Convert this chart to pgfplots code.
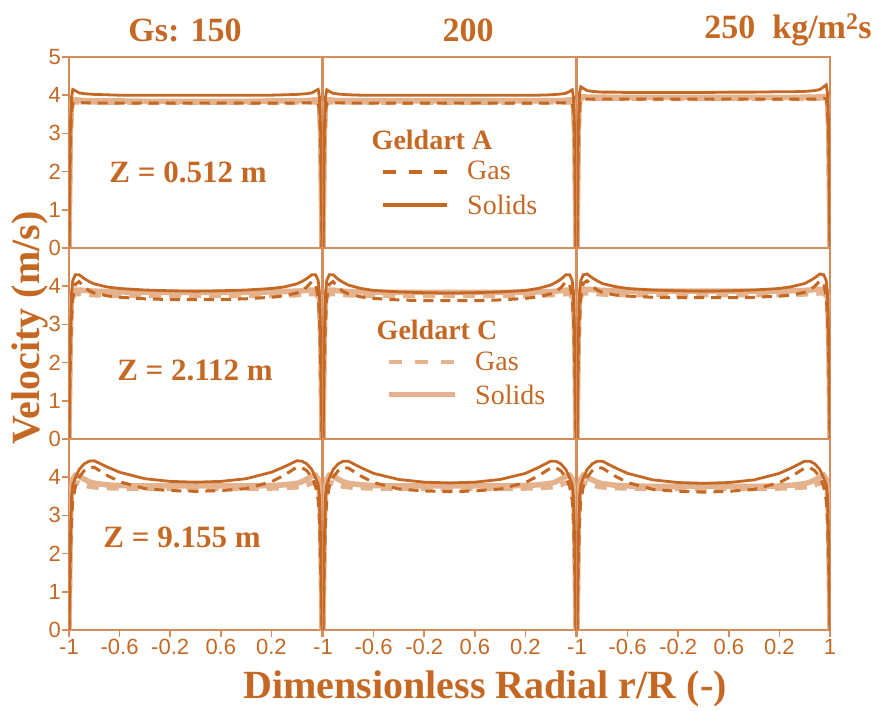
\documentclass[border=0pt]{standalone}
\usepackage{fontspec}
\setmainfont{Liberation Serif}
\setsansfont{Liberation Sans}
\usepackage{pgfplots}
\pgfplotsset{compat=1.18}
\usepackage{pgfplotstable}
\definecolor{dk}{RGB}{196,104,36}
\definecolor{lt}{RGB}{228,178,140}
\definecolor{axc}{RGB}{214,140,90}

\pgfplotstableread{
x ag1 as1 cg1 cs1 ag2 as2 cg2 cs2 ag3 as3 cg3 cs3
-1 0 0 0 0 0 0 0 0 0 0 0 0
-0.99 2.6 3.0 2.8 3.0 2.6 3.0 2.8 3.0 2.7 3.1 2.9 3.1
-0.98 3.6 3.95 3.7 3.8 3.6 3.95 3.7 3.8 3.7 4.05 3.8 3.9
-0.97 3.78 4.15 3.8 3.88 3.78 4.14 3.8 3.88 3.88 4.22 3.9 3.96
-0.95 3.82 4.12 3.82 3.88 3.81 4.10 3.82 3.88 3.90 4.18 3.91 3.96
-0.92 3.80 4.06 3.82 3.87 3.80 4.05 3.82 3.87 3.90 4.12 3.91 3.95
-0.88 3.80 4.04 3.82 3.86 3.80 4.03 3.82 3.86 3.90 4.10 3.91 3.95
-0.84 3.80 4.03 3.82 3.86 3.80 4.02 3.82 3.86 3.90 4.09 3.91 3.95
-0.8 3.79 4.02 3.82 3.85 3.79 4.01 3.82 3.86 3.90 4.08 3.91 3.95
-0.7 3.79 4.01 3.81 3.85 3.79 4.00 3.82 3.85 3.90 4.08 3.91 3.94
-0.6 3.79 4.00 3.81 3.85 3.79 4.00 3.81 3.85 3.90 4.07 3.91 3.94
-0.4 3.79 4.00 3.81 3.84 3.79 4.00 3.81 3.85 3.90 4.07 3.91 3.94
-0.2 3.79 4.00 3.81 3.84 3.79 4.00 3.81 3.85 3.90 4.07 3.91 3.94
0 3.79 4.00 3.81 3.84 3.79 4.00 3.81 3.85 3.90 4.07 3.91 3.94
0.2 3.79 4.00 3.81 3.84 3.79 4.00 3.81 3.85 3.90 4.08 3.91 3.94
0.4 3.79 4.00 3.81 3.84 3.79 4.00 3.81 3.85 3.90 4.08 3.91 3.94
0.6 3.79 4.00 3.81 3.85 3.79 4.00 3.81 3.85 3.90 4.09 3.91 3.94
0.7 3.79 4.01 3.81 3.85 3.79 4.00 3.82 3.85 3.90 4.09 3.91 3.94
0.8 3.79 4.02 3.82 3.85 3.79 4.01 3.82 3.86 3.90 4.10 3.91 3.95
0.84 3.80 4.03 3.82 3.86 3.80 4.02 3.82 3.86 3.90 4.11 3.91 3.95
0.88 3.80 4.04 3.82 3.86 3.80 4.03 3.82 3.86 3.90 4.12 3.91 3.95
0.92 3.80 4.06 3.82 3.87 3.80 4.05 3.82 3.87 3.91 4.15 3.92 3.96
0.95 3.82 4.12 3.82 3.88 3.81 4.10 3.82 3.88 3.92 4.22 3.92 3.97
0.97 3.78 4.15 3.8 3.88 3.78 4.14 3.8 3.88 3.9 4.27 3.9 3.96
0.98 3.6 3.95 3.7 3.8 3.6 3.95 3.7 3.8 3.7 4.05 3.8 3.9
0.99 2.6 3.0 2.8 3.0 2.6 3.0 2.8 3.0 2.7 3.1 2.9 3.1
1 0 0 0 0 0 0 0 0 0 0 0 0
}\rowone

\pgfplotstableread{
x ag1 as1 cg1 cs1 ag2 as2 cg2 cs2 ag3 as3 cg3 cs3
-1 0 0 0 0 0 0 0 0 0 0 0 0
-0.99 2.0 2.6 2.4 2.8 2.0 2.6 2.4 2.8 2.0 2.6 2.4 2.8
-0.98 3.2 3.8 3.5 3.7 3.2 3.8 3.5 3.7 3.2 3.8 3.5 3.7
-0.97 3.70 4.15 3.72 3.86 3.70 4.15 3.72 3.86 3.72 4.15 3.74 3.88
-0.95 4.05 4.30 3.80 3.90 4.05 4.30 3.80 3.90 4.08 4.30 3.82 3.92
-0.92 4.12 4.30 3.80 3.90 4.12 4.30 3.80 3.90 4.14 4.32 3.82 3.92
-0.88 3.98 4.20 3.79 3.89 3.96 4.18 3.79 3.88 4.00 4.22 3.81 3.91
-0.84 3.88 4.12 3.78 3.88 3.86 4.10 3.78 3.87 3.90 4.14 3.80 3.90
-0.8 3.82 4.06 3.77 3.87 3.80 4.03 3.77 3.86 3.84 4.07 3.79 3.89
-0.7 3.75 3.98 3.76 3.86 3.72 3.94 3.76 3.85 3.77 3.99 3.78 3.88
-0.6 3.71 3.94 3.75 3.85 3.68 3.89 3.75 3.84 3.74 3.94 3.77 3.87
-0.4 3.67 3.90 3.75 3.84 3.64 3.85 3.75 3.84 3.71 3.90 3.77 3.87
-0.2 3.65 3.88 3.75 3.84 3.62 3.83 3.75 3.84 3.70 3.88 3.77 3.87
0 3.65 3.87 3.75 3.84 3.62 3.82 3.75 3.84 3.70 3.87 3.77 3.87
0.2 3.65 3.88 3.75 3.84 3.62 3.83 3.75 3.84 3.70 3.88 3.77 3.87
0.4 3.67 3.90 3.75 3.84 3.64 3.85 3.75 3.84 3.71 3.90 3.77 3.87
0.6 3.71 3.94 3.75 3.85 3.68 3.89 3.75 3.84 3.74 3.94 3.77 3.87
0.7 3.75 3.98 3.76 3.86 3.72 3.94 3.76 3.85 3.77 3.99 3.78 3.88
0.8 3.82 4.06 3.77 3.87 3.80 4.03 3.77 3.86 3.84 4.07 3.79 3.89
0.84 3.88 4.12 3.78 3.88 3.86 4.10 3.78 3.87 3.90 4.14 3.80 3.90
0.88 3.98 4.20 3.79 3.89 3.96 4.18 3.79 3.88 4.00 4.22 3.81 3.91
0.92 4.12 4.30 3.80 3.90 4.12 4.30 3.80 3.90 4.14 4.32 3.82 3.92
0.95 4.05 4.30 3.80 3.90 4.05 4.30 3.80 3.90 4.08 4.30 3.82 3.92
0.97 3.70 4.15 3.72 3.86 3.70 4.15 3.72 3.86 3.72 4.15 3.74 3.88
0.98 3.2 3.8 3.5 3.7 3.2 3.8 3.5 3.7 3.2 3.8 3.5 3.7
0.99 2.0 2.6 2.4 2.8 2.0 2.6 2.4 2.8 2.0 2.6 2.4 2.8
1 0 0 0 0 0 0 0 0 0 0 0 0
}\rowtwo

\pgfplotstableread{
x ag1 as1 cg1 cs1 ag2 as2 cg2 cs2 ag3 as3 cg3 cs3
-1 0 0 0 0 0 0 0 0 0 0 0 0
-0.99 1.6 2.2 2.5 2.8 1.6 2.2 2.5 2.8 1.6 2.2 2.5 2.8
-0.98 2.9 3.5 3.5 3.7 2.9 3.5 3.5 3.7 2.9 3.5 3.5 3.7
-0.97 3.40 3.80 3.75 3.95 3.40 3.80 3.75 3.95 3.40 3.80 3.75 3.95
-0.95 3.75 3.98 3.85 4.05 3.75 3.98 3.85 4.05 3.75 3.98 3.85 4.05
-0.92 4.00 4.20 3.85 4.02 4.00 4.20 3.85 4.02 4.00 4.20 3.85 4.00
-0.88 4.17 4.35 3.80 3.95 4.17 4.35 3.80 3.95 4.17 4.35 3.80 3.93
-0.84 4.25 4.42 3.76 3.88 4.25 4.42 3.76 3.88 4.25 4.42 3.76 3.87
-0.8 4.26 4.43 3.74 3.84 4.24 4.42 3.74 3.84 4.24 4.42 3.74 3.83
-0.7 4.05 4.27 3.72 3.80 4.03 4.25 3.72 3.80 4.03 4.25 3.72 3.79
-0.6 3.88 4.13 3.71 3.78 3.86 4.10 3.71 3.78 3.86 4.10 3.71 3.77
-0.4 3.70 3.96 3.70 3.77 3.69 3.94 3.70 3.77 3.68 3.93 3.70 3.76
-0.2 3.65 3.89 3.70 3.77 3.64 3.87 3.70 3.77 3.63 3.86 3.70 3.76
0 3.63 3.87 3.70 3.77 3.62 3.85 3.70 3.77 3.61 3.84 3.70 3.76
0.2 3.65 3.89 3.70 3.77 3.64 3.87 3.70 3.77 3.63 3.86 3.70 3.76
0.4 3.70 3.96 3.70 3.77 3.69 3.94 3.70 3.77 3.68 3.93 3.70 3.76
0.6 3.88 4.13 3.71 3.78 3.86 4.10 3.71 3.78 3.86 4.10 3.71 3.77
0.7 4.05 4.27 3.72 3.80 4.03 4.25 3.72 3.80 4.03 4.25 3.72 3.79
0.8 4.26 4.43 3.74 3.84 4.24 4.42 3.74 3.84 4.24 4.42 3.74 3.83
0.84 4.25 4.42 3.76 3.88 4.25 4.42 3.76 3.88 4.25 4.42 3.76 3.87
0.88 4.17 4.35 3.80 3.95 4.17 4.35 3.80 3.95 4.17 4.35 3.80 3.93
0.92 4.00 4.20 3.85 4.02 4.00 4.20 3.85 4.02 4.00 4.20 3.85 4.00
0.95 3.75 3.98 3.85 4.05 3.75 3.98 3.85 4.05 3.75 3.98 3.85 4.05
0.97 3.40 3.80 3.75 3.95 3.40 3.80 3.75 3.95 3.40 3.80 3.75 3.95
0.98 2.9 3.5 3.5 3.7 2.9 3.5 3.5 3.7 2.9 3.5 3.5 3.7
0.99 1.6 2.2 2.5 2.8 1.6 2.2 2.5 2.8 1.6 2.2 2.5 2.8
1 0 0 0 0 0 0 0 0 0 0 0 0
}\rowthree

\pgfplotsset{
  panel/.style={
    scale only axis, width=253pt, height=191pt,
    xmin=-1, xmax=1, ymin=0, ymax=5,
    axis line style={axc, line width=1.5pt},
    tick style={axc, line width=1.5pt},
    tick align=outside, major tick length=7pt,
    xtick=\empty, ytick=\empty,
    xtick pos=bottom, ytick pos=left,
    xticklabel style={font=\sffamily\fontsize{22}{22}\selectfont, text=dk, inner sep=2pt},
    yticklabel style={font=\sffamily\fontsize{22}{22}\selectfont, text=dk, inner sep=1pt},
    anchor=south west,
  },
  leftcol/.style={ytick={0,1,2,3,4,5}},
  botrow/.style={xtick={-1,-0.6,-0.2,0.2,0.6,1}},
  dkg/.style={dk, line width=3pt, dash pattern=on 10pt off 7pt},
  dks/.style={dk, line width=2.8pt},
  ltg/.style={lt, line width=5pt, dash pattern=on 12pt off 8pt},
  lts/.style={lt, line width=5.5pt},
}
\newcommand{\panelplots}[2]{%
  \addplot[lts] table[x=x, y=cs#2] {#1};
  \addplot[ltg] table[x=x, y=cg#2] {#1};
  \addplot[dkg] table[x=x, y=ag#2] {#1};
  \addplot[dks] table[x=x, y=as#2] {#1};
}
\newcommand{\tf}[1]{\fontsize{#1}{#1}\selectfont}

\begin{document}
\begin{tikzpicture}[x=1pt, y=1pt]
\path[use as bounding box] (0,0) rectangle (877,711);
% row 1
\begin{axis}[panel, leftcol, yticklabels={0,1,2,3,4,5}, at={(69pt,463pt)}]
\panelplots{\rowone}{1}
\end{axis}
\begin{axis}[panel, at={(323pt,463pt)}]
\panelplots{\rowone}{2}
\end{axis}
\begin{axis}[panel, at={(577pt,463pt)}]
\panelplots{\rowone}{3}
\end{axis}
% row 2
\begin{axis}[panel, leftcol, yticklabels={0,1,2,3,4,}, at={(69pt,272pt)}]
\panelplots{\rowtwo}{1}
\end{axis}
\begin{axis}[panel, at={(323pt,272pt)}]
\panelplots{\rowtwo}{2}
\end{axis}
\begin{axis}[panel, at={(577pt,272pt)}]
\panelplots{\rowtwo}{3}
\end{axis}
% row 3
\begin{axis}[panel, leftcol, botrow, yticklabels={0,1,2,3,4,}, xticklabels={-1,-0.6,-0.2,0.6,0.2,}, at={(69pt,81pt)}]
\panelplots{\rowthree}{1}
\end{axis}
\begin{axis}[panel, botrow, xticklabels={-1,-0.6,-0.2,0.6,0.2,}, at={(323pt,81pt)}]
\panelplots{\rowthree}{2}
\end{axis}
\begin{axis}[panel, botrow, xticklabels={-1,-0.6,-0.2,0.6,0.2,1}, at={(577pt,81pt)}]
\panelplots{\rowthree}{3}
\end{axis}

% titles and labels
\begin{scope}[every node/.style={text=dk, inner sep=0pt}]
\node[font=\bfseries\tf{34}] at (185,681) {Gs: 150};
\node[font=\bfseries\tf{34}] at (468,681) {200};
\node[font=\bfseries\tf{34}] at (788,681) {250\ \ kg/m\textsuperscript{2}s};
\node[font=\bfseries\tf{40}, rotate=90] at (30,383) {Velocity (m/s)};
\node[font=\bfseries\tf{40}] at (485,22) {Dimensionless Radial r/R (-)};
\node[font=\bfseries\tf{31}] at (188,539) {Z = 0.512 m};
\node[font=\bfseries\tf{31}] at (195,341) {Z = 2.112 m};
\node[font=\bfseries\tf{31}] at (182,174) {Z = 9.155 m};
\node[font=\bfseries\tf{28}] at (432,571) {Geldart A};
\node[font=\tf{28}, anchor=west] at (467,541) {Gas};
\node[font=\tf{28}, anchor=west] at (467,506) {Solids};
\node[font=\bfseries\tf{28}] at (437,381) {Geldart C};
\node[font=\tf{28}, anchor=west] at (475,350) {Gas};
\node[font=\tf{28}, anchor=west] at (475,316) {Solids};
\end{scope}
\draw[dk, line width=3.5pt, dash pattern=on 13pt off 12.5pt] (383,539) -- (447,539);
\draw[dk, line width=3.5pt] (383,506) -- (447,506);
\draw[lt, line width=4.5pt, dash pattern=on 13pt off 13pt] (389,349) -- (455,349);
\draw[lt, line width=5pt] (389,316) -- (455,316);
\end{tikzpicture}
\end{document}
